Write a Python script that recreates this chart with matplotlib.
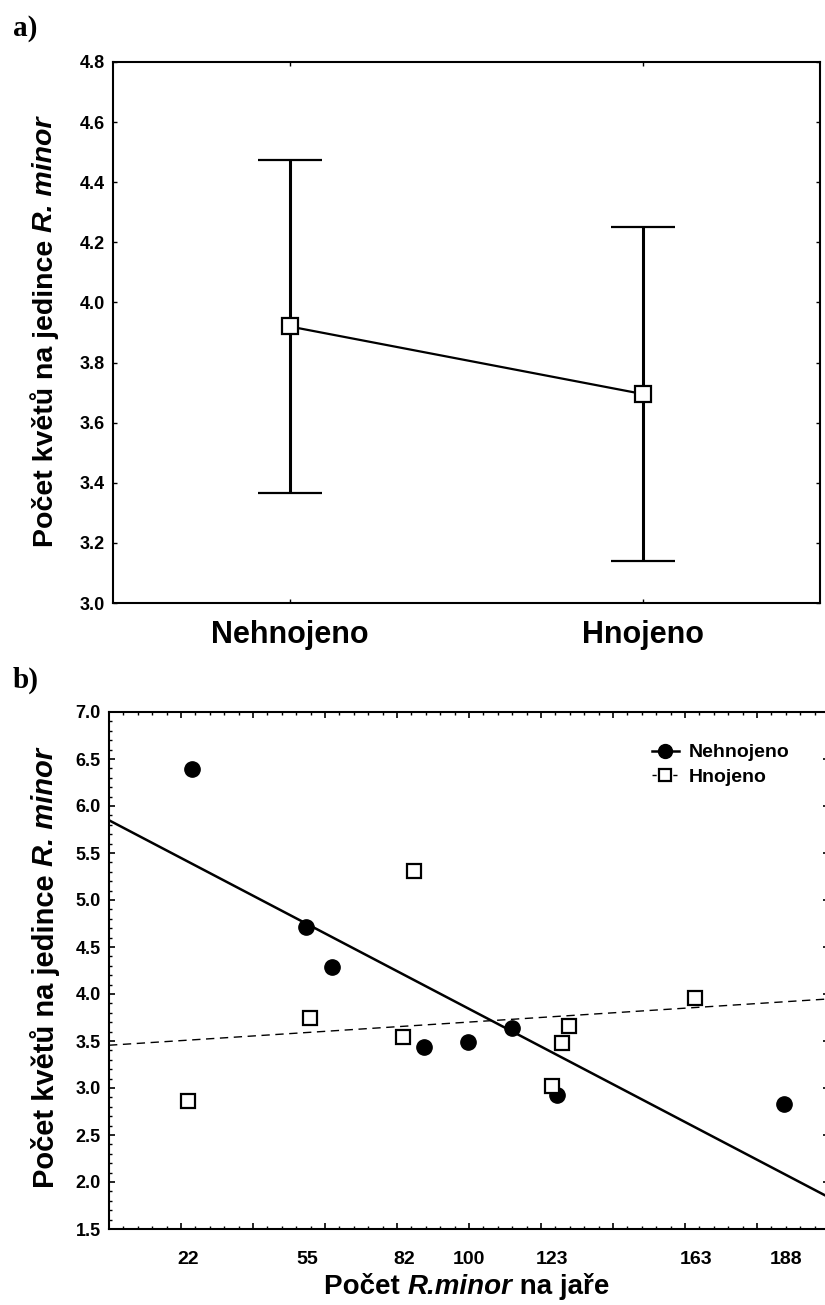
import matplotlib
matplotlib.use("Agg")
import matplotlib.pyplot as plt
from matplotlib.ticker import MultipleLocator
import numpy as np

plt.rcParams['font.family'] = ['Liberation Sans', 'DejaVu Sans']
plt.rcParams['font.weight'] = 'bold'

# panel a) - prumery s chybovymi useckami
groups = ["Nehnojeno", "Hnojeno"]
group_means = [3.92, 3.695]
group_err = [0.555, 0.555]

# panel b) - pocet kvetu vs pocet R. minor na jare
nehnojeno_x = [23, 54.6, 62, 87.6, 99.8, 112, 124.5, 187.5]
nehnojeno_y = [6.39, 4.71, 4.29, 3.44, 3.49, 3.64, 2.93, 2.83]
hnojeno_x = [22, 55.8, 81.8, 84.6, 123, 125.9, 127.7, 162.8]
hnojeno_y = [2.86, 3.74, 3.54, 5.31, 3.02, 3.48, 3.66, 3.96]
spring_ticks = [22, 55, 82, 100, 123, 163, 188]

SANS = ['Liberation Sans', 'DejaVu Sans']
SERIF = ['Liberation Serif', 'DejaVu Serif']

fig = plt.figure(figsize=(8.25, 13.05), dpi=100)
W, H = 825, 1305


def px_axes(left, top, right, bottom):
    return fig.add_axes([left / W, 1 - bottom / H, (right - left) / W, (bottom - top) / H])


def mixed_text(parts, x, y, size, rotation=0):
    # parts = [(text, style)], centred on (x, y) in figure px from top-left
    renderer = fig.canvas.get_renderer()
    objs = []
    total = 0
    for txt, style in parts:
        t = fig.text(0, 0, txt, fontsize=size, fontstyle=style, fontweight='bold',
                     family=SANS, rotation=rotation,
                     ha='left' if rotation == 0 else 'center',
                     va='center' if rotation == 0 else 'bottom')
        ext = t.get_window_extent(renderer)
        L = ext.width if rotation == 0 else ext.height
        objs.append((t, L))
        total += L
    if rotation == 0:
        pos = x - total / 2
        for t, L in objs:
            t.set_position((pos / W, 1 - y / H))
            pos += L
    else:
        pos = y + total / 2
        for t, L in objs:
            t.set_position((x / W, 1 - pos / H))
            pos -= L


# ---------- a) ----------
ax1 = px_axes(113, 62, 820, 603)
xpos = np.arange(len(groups))
ax1.errorbar(xpos, group_means, yerr=group_err, color='black', lw=1.6,
             elinewidth=2.2, capsize=23, capthick=2.0,
             marker='s', ms=11, mfc='white', mec='black', mew=1.6, zorder=3)
ax1.set_xlim(-0.5, 1.5)
ax1.set_ylim(3.0, 4.8)
ax1.set_xticks(xpos)
ax1.set_xticklabels(groups, fontsize=22, fontweight='bold')
yt = np.arange(3.0, 4.81, 0.2)
ax1.set_yticks(yt)
ax1.set_yticklabels([f"{v:.1f}" for v in yt], fontsize=13, fontweight='bold')
ax1.tick_params(direction='in', length=3, width=1, top=True, right=True, pad=6)
ax1.tick_params(axis='x', pad=12)
for s in ax1.spines.values():
    s.set_linewidth(1.5)

fig.text(13 / W, 1 - 28 / H, "a)", fontsize=21, fontweight='bold',
         family=SERIF, ha='left', va='center')

# ---------- b) ----------
ax2 = px_axes(109, 712, 829, 1229)
ax2.plot(nehnojeno_x, nehnojeno_y, 'o', color='black', ms=11, zorder=3)
ax2.plot(hnojeno_x, hnojeno_y, 's', mfc='white', mec='black', mew=1.6, ms=10.5, zorder=3)

xx = np.linspace(0, 200, 100)
k1, q1 = np.polyfit(nehnojeno_x, nehnojeno_y, 1)
k2, q2 = np.polyfit(hnojeno_x, hnojeno_y, 1)
ax2.plot(xx, k1 * xx + q1, '-', color='black', lw=1.8, zorder=2)
ax2.plot(xx, k2 * xx + q2, '--', color='black', lw=1.0, dashes=(6, 4), zorder=2)

# legenda
ax2.plot([], [], '-o', color='black', ms=10, lw=1.8, label='Nehnojeno')
ax2.plot([], [], '--s', color='black', mfc='white', mec='black', mew=1.6, ms=9,
         lw=1.0, dashes=(3, 2), label='Hnojeno')
leg = ax2.legend(loc='upper left', bbox_to_anchor=(642 / W, 1 - 734 / H),
                 bbox_transform=fig.transFigure, frameon=False, handlelength=1.4,
                 handletextpad=0.5, labelspacing=0.35, borderpad=0,
                 prop={'size': 14, 'weight': 'bold'})

ax2.set_xlim(0, 200)
ax2.set_ylim(1.5, 7.0)
ax2.xaxis.set_major_locator(MultipleLocator(20))
ax2.xaxis.set_minor_locator(MultipleLocator(4))
ax2.xaxis.set_major_formatter(plt.NullFormatter())
ax2.yaxis.set_major_locator(MultipleLocator(0.5))
ax2.yaxis.set_minor_locator(MultipleLocator(0.1))
ax2.yaxis.set_major_formatter(plt.FuncFormatter(lambda v, p: f"{v:.1f}"))
ax2.tick_params(which='major', direction='in', length=4, width=1.2, top=True, right=True)
ax2.tick_params(which='minor', direction='in', length=2, width=1, top=True, right=True)
ax2.tick_params(axis='y', labelsize=13, pad=6)
for s in ax2.spines.values():
    s.set_linewidth(1.5)

sec = ax2.secondary_xaxis('bottom')
sec.set_xticks(spring_ticks)
sec.set_xticklabels([str(v) for v in spring_ticks], fontsize=14, fontweight='bold')
sec.tick_params(length=0, pad=16)
sec.spines['bottom'].set_visible(False)

fig.text(13 / W, 1 - 680 / H, "b)", fontsize=21, fontweight='bold',
         family=SERIF, ha='left', va='center')

# popisky os
ylab = [("Počet květů na jedince ", 'normal'), ("R. minor", 'italic')]
mixed_text(ylab, 45, 332, 20.5, rotation=90)
mixed_text(ylab, 45, 968, 21, rotation=90)
mixed_text([("Počet ", 'normal'), ("R.minor", 'italic'), (" na jaře", 'normal')],
           467, 1287, 20)

fig.savefig("out.png", dpi=100)
